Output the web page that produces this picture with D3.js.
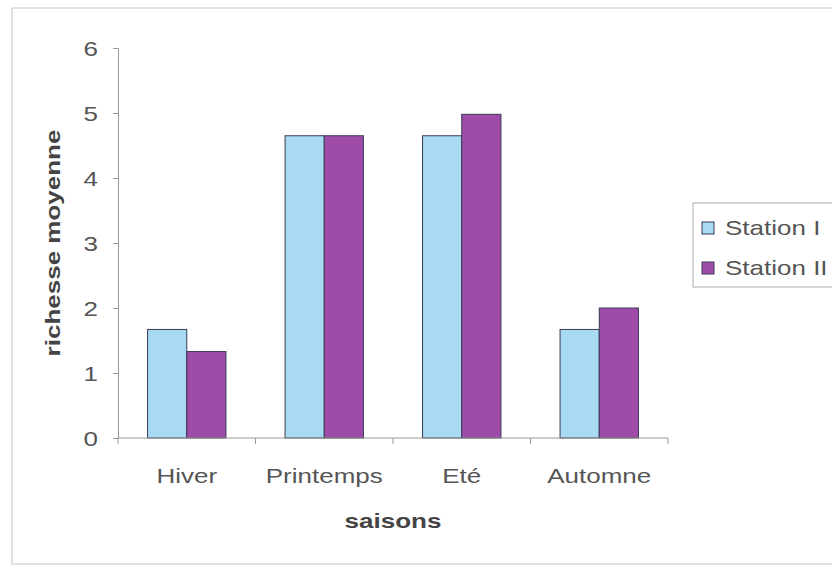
<!DOCTYPE html>
<html><head><meta charset="utf-8">
<script src="https://cdn.jsdelivr.net/npm/d3@7"></script>
<style>body{margin:0;background:#fff}svg{display:block}</style>
</head><body>
<script>
const categories = ["Hiver", "Printemps", "Eté", "Automne"];
const seriesNames = ["Station I", "Station II"];
const station1 = [1.67, 4.65, 4.65, 1.67];
const station2 = [1.33, 4.65, 4.98, 2.0];
const yTicks = [0, 1, 2, 3, 4, 5, 6];
const colors = ["#a8daf3", "#9e4ca8"];

const W = 832, H = 569, SX = 1.3;
const svg = d3.select("body").append("svg").attr("width", W).attr("height", H)
  .style("font-family", "'Liberation Sans', Arial, sans-serif");

// outer frame
svg.append("rect").attr("x", 12).attr("y", 8).attr("width", W - 10).attr("height", 556)
  .attr("fill", "none").attr("stroke", "#c4c4c4").attr("stroke-width", 1);

const m = {left: 118, top: 48, right: 668, bottom: 438};
const x = d3.scaleBand().domain(categories).range([m.left, m.right]).paddingInner(0.43).paddingOuter(0.215);
const xs = d3.scaleBand().domain(seriesNames).range([0, x.bandwidth()]);
const y = d3.scaleLinear().domain([0, 6]).range([m.bottom, m.top]);

const data = categories.map((c, i) => ({cat: c, vals: [station1[i], station2[i]]}));

const g = svg.append("g");
g.selectAll("g.grp").data(data).join("g").attr("class", "grp")
  .attr("transform", d => `translate(${x(d.cat)},0)`)
  .selectAll("rect").data(d => d.vals.map((v, j) => ({s: seriesNames[j], v, j})))
  .join("rect")
  .attr("x", d => xs(d.s)).attr("width", xs.bandwidth())
  .attr("y", d => y(d.v)).attr("height", d => y(0) - y(d.v))
  .attr("fill", d => colors[d.j]).attr("stroke", "#3a3a55").attr("stroke-width", 1);

// y axis
const yAxis = d3.axisLeft(y).tickValues(yTicks).tickSize(5).tickFormat(d3.format("d"));
const ya = svg.append("g").attr("transform", `translate(${m.left},0)`).call(yAxis);
ya.select(".domain").attr("stroke", "#999");
ya.selectAll(".tick line").attr("stroke", "#999");
ya.selectAll("text").attr("font-size", 20).attr("fill", "#555")
  .attr("x", 0).attr("dy", "0.35em").attr("transform", `translate(-20,0) scale(${SX},1)`);

// x axis with ticks at band boundaries
const xa = svg.append("g").attr("transform", `translate(0,${m.bottom})`);
xa.append("line").attr("x1", m.left).attr("x2", m.right).attr("stroke", "#999");
const step = (m.right - m.left) / categories.length;
const bounds = d3.range(categories.length + 1).map(i => m.left + i * step);
xa.selectAll("line.t").data(bounds).join("line").attr("class", "t")
  .attr("x1", d => d).attr("x2", d => d).attr("y1", 0).attr("y2", 6).attr("stroke", "#999");
xa.selectAll("text").data(categories).join("text")
  .attr("transform", d => `translate(${x(d) + x.bandwidth() / 2},45) scale(${SX},1)`)
  .attr("text-anchor", "middle").attr("font-size", 20).attr("fill", "#555").text(d => d);

// axis titles
svg.append("text").attr("transform", `translate(393,528) scale(${SX},1)`).attr("text-anchor", "middle")
  .attr("font-size", 20).attr("font-weight", "bold").attr("fill", "#444").text("saisons");
svg.append("text").attr("transform", `translate(60,243) rotate(-90) scale(${SX},1)`).attr("text-anchor", "middle")
  .attr("font-size", 20).attr("font-weight", "bold").attr("fill", "#444").text("richesse moyenne");

// legend
const lg = svg.append("g");
lg.append("rect").attr("x", 693).attr("y", 203).attr("width", 150).attr("height", 84)
  .attr("fill", "#fff").attr("stroke", "#aaa");
seriesNames.forEach((s, i) => {
  const cy = 228 + i * 40;
  lg.append("rect").attr("x", 702).attr("y", cy - 6).attr("width", 12).attr("height", 12)
    .attr("fill", colors[i]).attr("stroke", "#3a3a55");
  lg.append("text").attr("transform", `translate(725,${cy + 7}) scale(${SX},1)`)
    .attr("font-size", 20).attr("fill", "#555").text(s);
});
</script>
</body></html>
